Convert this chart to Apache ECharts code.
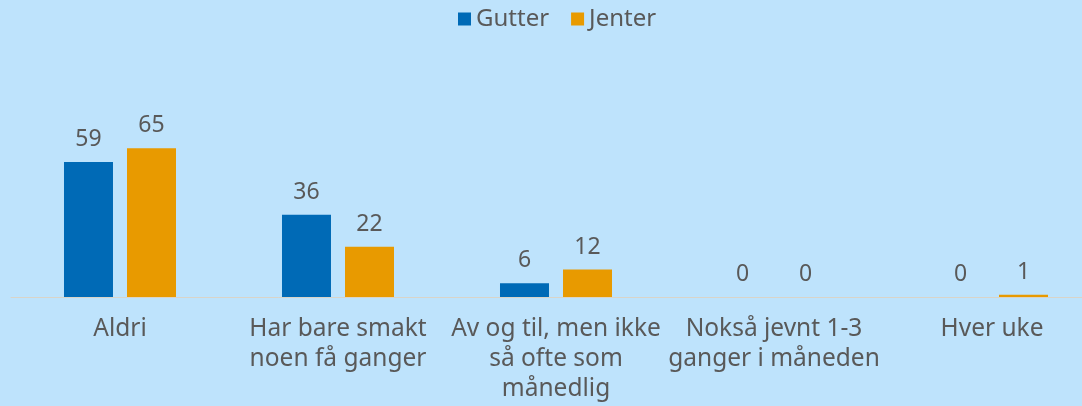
<!DOCTYPE html>
<html>
<head>
<meta charset="utf-8">
<script src="https://cdn.jsdelivr.net/npm/echarts@6/dist/echarts.min.js"></script>
<style>
  html, body { margin: 0; padding: 0; background: #bee3fc; }
  #chart { width: 1082px; height: 406px; }
</style>
</head>
<body>
<div id="chart"></div>
<script>
const categories = [
    "Aldri",
    "Har bare smakt\nnoen få ganger",
    "Av og til, men ikke\nså ofte som\nmånedlig",
    "Nokså jevnt 1-3\nganger i måneden",
    "Hver uke"
];
const gutter = [59, 36, 6, 0, 0];
const jenter = [65, 22, 12, 0, 1];

const textColor = "#595959";
const font = "Noto Sans";

const chart = echarts.init(document.getElementById('chart'), null, { renderer: 'canvas' });

chart.setOption({
    backgroundColor: "#bee3fc",
    animation: false,
    textStyle: { fontFamily: font },
    legend: {
        top: 7,
        left: 458,
        padding: 0,
        itemWidth: 13,
        itemHeight: 13,
        itemGap: 22,
        icon: "rect",
        textStyle: { color: textColor, fontSize: 24, fontFamily: font },
        data: ["Gutter", "Jenter"]
    },
    grid: {
        left: 11,
        right: -19,
        top: 114,
        bottom: 109,
        outerBoundsMode: "none",
        containLabel: false
    },
    xAxis: {
        type: "category",
        data: categories,
        axisLine: { show: true, lineStyle: { color: "#d9d4c8", width: 1 } },
        axisTick: { show: false },
        axisLabel: {
            color: textColor,
            fontSize: 24.5,
            lineHeight: 30,
            margin: 17,
            interval: 0,
            fontFamily: font
        }
    },
    yAxis: {
        type: "value",
        min: 0,
        max: 80,
        show: false,
        splitLine: { show: false }
    },
    series: [
        {
            name: "Gutter",
            type: "bar",
            data: gutter,
            barWidth: 49,
            barGap: "28.6%",
            itemStyle: { color: "#006ab6" },
            label: {
                show: true,
                position: "top",
                distance: 11,
                color: textColor,
                fontSize: 23,
                fontFamily: font
            }
        },
        {
            name: "Jenter",
            type: "bar",
            data: jenter,
            barWidth: 49,
            barGap: "28.6%",
            itemStyle: { color: "#e89a00" },
            label: {
                show: true,
                position: "top",
                distance: 11,
                color: textColor,
                fontSize: 23,
                fontFamily: font
            }
        }
    ]
});
</script>
</body>
</html>
